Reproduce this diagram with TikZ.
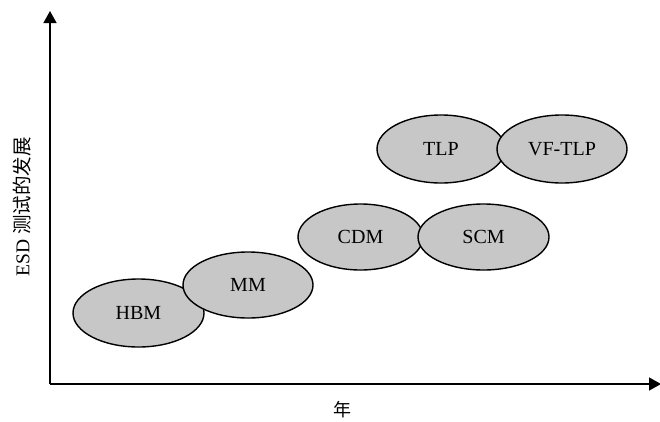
\documentclass[tikz,border=0pt]{standalone}
\usepackage{fontspec}
\setmainfont{Liberation Serif}
\newfontfamily\cjk{Noto Sans CJK SC}
\usetikzlibrary{shapes.geometric,arrows.meta}
\begin{document}
\begin{tikzpicture}[x=1pt,y=-1pt,
  axis/.style={line width=1.4pt,-{Triangle[length=12pt,width=13pt]}},
  stage/.style={ellipse,draw=black,line width=1.4pt,fill=black!22,inner sep=0pt,
    font=\fontsize{20}{22}\selectfont}]
  \useasboundingbox (0,0) rectangle (660,421);
  % axes
  \coordinate (o) at (50,384);
  \coordinate (ytop) at (50,11);
  \coordinate (xend) at (661,384);
  \draw[axis] (o) -- (ytop);
  \draw[axis] (o) -- (xend);
  \node[rotate=90,font=\fontsize{19.5}{21}\selectfont] (ylab) at (22,207) {ESD {\cjk 测试的发展}};
  \node[font=\cjk\fontsize{18}{20}\selectfont] (xlab) at (342,410) {年};
  % test methods
  \node[stage,minimum width=131pt,minimum height=68pt] (hbm) at (138.5,313) {HBM};
  \node[stage,minimum width=130pt,minimum height=66pt] (mm) at (248,285) {MM};
  \node[stage,minimum width=125pt,minimum height=66pt] (cdm) at (360.5,237) {CDM};
  \node[stage,minimum width=131pt,minimum height=66pt] (scm) at (483.5,237) {SCM};
  \node[stage,minimum width=128pt,minimum height=68pt] (tlp) at (441,149) {TLP};
  \node[stage,minimum width=130pt,minimum height=68pt] (vftlp) at (562,149) {VF-TLP};
\end{tikzpicture}
\end{document}
